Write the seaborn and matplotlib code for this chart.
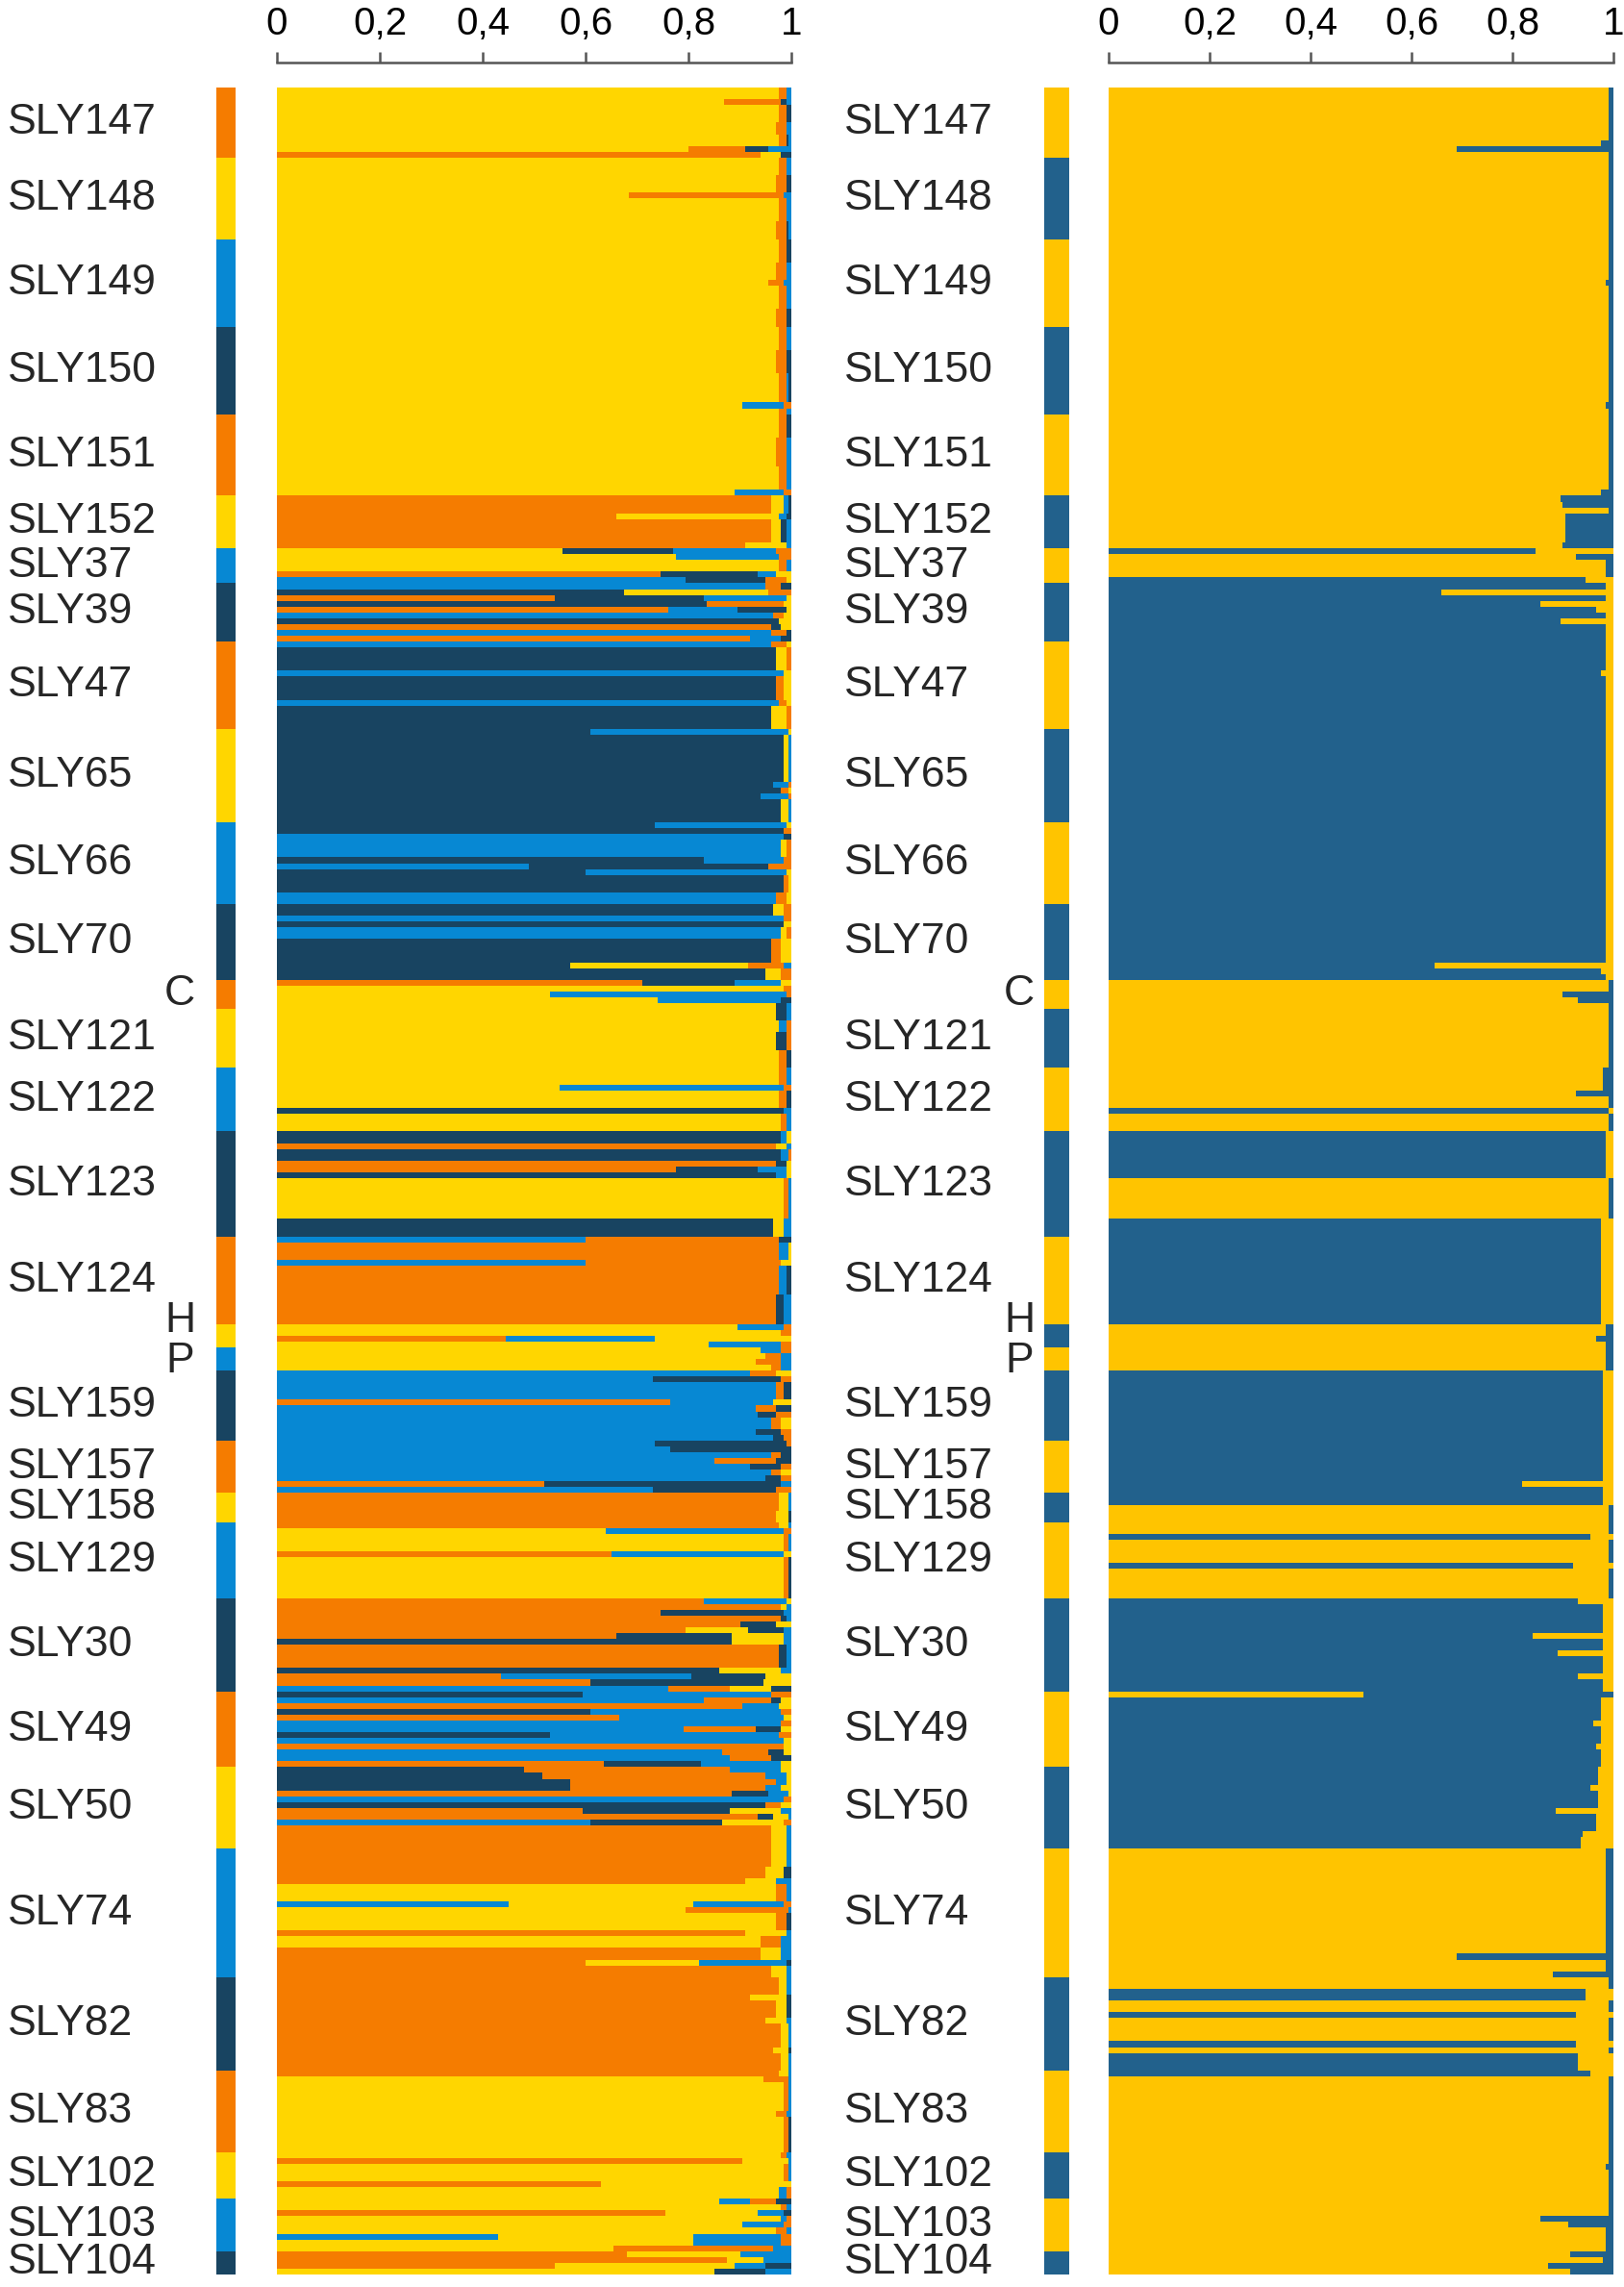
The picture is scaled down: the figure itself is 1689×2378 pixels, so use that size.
import matplotlib
matplotlib.use("Agg")
import matplotlib.pyplot as plt
import matplotlib.transforms as mtransforms
from matplotlib.colors import ListedColormap
import numpy as np
import pandas as pd
import seaborn as sns

# Populations, top to bottom, with number of individuals in each
populations = ["SLY147", "SLY148", "SLY149", "SLY150", "SLY151", "SLY152", "SLY37", "SLY39",
               "SLY47", "SLY65", "SLY66", "SLY70", "C", "SLY121", "SLY122", "SLY123", "SLY124",
               "H", "P", "SLY159", "SLY157", "SLY158", "SLY129", "SLY30", "SLY49", "SLY50",
               "SLY74", "SLY82", "SLY83", "SLY102", "SLY103", "SLY104"]
pop_sizes = [12, 14, 15, 15, 14, 9, 6, 10, 15, 16, 14, 13, 5, 10, 11, 18, 15,
             4, 4, 12, 9, 5, 13, 16, 13, 14, 22, 16, 14, 8, 9, 4]

# K=4 memberships: (number of individuals, "cluster% ..." in drawn order)
# O = orange, Y = yellow, B = light blue, N = navy
k4_runs = [
    [(2, "Y97.5 O1.5 B1"), (1, "Y87 O11 N1 B1"), (3, "Y97.5 O1.5 N1"), (2, "Y97 O2 B1"),
     (2, "Y97.5 O1.5 N0.5 B0.5"), (1, "Y80 O11 N4.5 B4.5"), (1, "O94 Y4 N2")],
    [(3, "Y97.5 O1.5 B1"), (3, "Y97 O2 N1"), (1, "Y68.5 O30 B1.5"), (4, "Y97.5 O1.5 B1"),
     (3, "Y97 O2 N0.5 B0.5")],
    [(4, "Y97.5 O1.5 N1"), (3, "Y97 O2 B1"), (1, "Y95.5 O3 B1.5"), (4, "Y97.5 O1.5 B1"),
     (3, "Y97 O2 N1")],
    [(4, "Y97.5 O1.5 B1"), (4, "Y97 O2 N1"), (5, "Y97.5 O1.5 B0.5 N0.5"), (1, "Y90.5 B8 O1.5"),
     (1, "Y97.5 O1.5 B1")],
    [(4, "Y97.5 O1.5 N1"), (5, "Y97 O2 B1"), (4, "Y97.5 O1.5 B1"), (1, "Y89 B9.5 O1.5")],
    [(3, "O96 Y2.5 B1 N0.5"), (1, "O66 Y31.5 B1.5 N1"), (4, "O96 Y2 N1 B1"), (1, "O91 Y8 B1")],
    [(1, "Y55.5 N21.5 B20 O3"), (1, "Y77.5 B20 O2.5"), (2, "Y97.5 O1.5 B1"),
     (1, "O74.5 N19 B3.5 Y3"), (1, "B79.5 N15.5 O4 Y1")],
    [(1, "B95 O3 N2"), (1, "N67.5 Y28 O4.5"), (1, "O54 N29 B16 Y1"), (1, "N83.5 O15 Y1.5"),
     (1, "O76 B13.5 N9.5 Y1"), (1, "B96.5 O2 Y1.5"), (1, "N97.5 Y2.5"), (1, "O96 N2 Y2"),
     (1, "B96 O3 N1"), (1, "O92 B6 N2")],
    [(1, "B96 O3 Y1"), (4, "N97 Y2 O1"), (1, "B98.5 Y1.5"), (4, "N97 O1.5 Y1.5"),
     (1, "B97.5 O1.5 Y1"), (4, "N96 Y3 O1")],
    [(1, "N61 B38.5 Y0.5"), (8, "N98.5 Y1 B0.5"), (1, "N96.5 B3 O0.5"), (1, "N98 O1.5 Y0.5"),
     (1, "N94 B5.5 O0.5"), (4, "N98 Y1.5 B0.5")],
    [(1, "N73.5 B25.5 Y1"), (1, "N98.5 O1.5"), (1, "B98.5 N1.5"), (3, "B98 Y1 O1"),
     (1, "N83 B15.5 O1.5"), (1, "B49 N46.5 O4.5"), (1, "N60 B39 Y1"), (3, "N98.5 O1 Y0.5"),
     (2, "B97 O2 Y1")],
    [(2, "N96.5 Y2 O1.5"), (1, "B98.5 O1.5"), (1, "N98.5 Y1.5"), (2, "B98 Y1 O1"),
     (4, "N96 O2 Y2"), (1, "N57 Y34.5 O7 B1.5"), (2, "N95 Y3 O2")],
    [(1, "O71 N18 B9 Y2"), (1, "Y98.5 O1.5"), (1, "Y53 B46 O1"), (1, "Y74 B24 N2"),
     (1, "Y97 N2 B1")],
    [(2, "Y97 N2 B1"), (2, "Y97.5 B1.5 O1"), (3, "Y97 N2 O1"), (3, "Y97.5 O1.5 N1")],
    [(3, "Y97.5 O1.5 B1"), (1, "Y55 B43.5 O1.5"), (3, "Y97.5 O1.5 N1"), (1, "N98.5 B1.5"),
     (3, "Y98 O1 B1")],
    [(2, "N98 B1 Y1"), (1, "O97 Y2 B1"), (2, "N98 B1.5 O0.5"), (1, "O97 N2 Y1"),
     (1, "O77.5 N16 B5.5 Y1"), (1, "N97 B2 Y1"), (7, "Y98.5 O1 B0.5"), (3, "N96.5 Y2 B1.5")],
    [(1, "B60 O37.5 N2.5"), (3, "O97.5 B2 Y0.5"), (1, "B60 O38 Y2"), (5, "O97.5 B1.5 N1"),
     (5, "O97 N1.5 B1.5")],
    [(1, "Y89.5 B9 O1.5"), (1, "Y98 O2"), (1, "O44.5 B29 Y26.5"), (1, "Y84 B14 O2")],
    [(1, "Y94 B4 O2"), (1, "Y95 O3 B2"), (1, "Y93 O5 B2"), (1, "Y96 O2 B2")],
    [(1, "B92 O5 Y3"), (1, "B73 N25 O2"), (3, "B97 O1.5 N1.5"), (1, "O76.5 B20 Y3.5"),
     (1, "B93 O4 N3"), (1, "B93.5 N3.5 O3"), (2, "B96 O2 Y2"), (1, "B93 N5 O2"),
     (1, "B96.5 N2 O1.5")],
    [(1, "B73.5 N25.5 O1"), (1, "B76.5 N23.5"), (1, "B96 O2 N2"), (1, "B85 O12 N3"),
     (1, "B92 N6 O2"), (1, "B96 O2 Y2"), (1, "B95 N3 O2"), (1, "O52 N46 B2"),
     (1, "B73 N24 O3")],
    [(3, "O97.5 Y2 B0.5"), (2, "O97 Y2.5 N0.5")],
    [(1, "O97.5 Y2 B0.5"), (1, "Y64 B34.5 O1.5"), (3, "Y98.5 O1 B0.5"), (1, "O65 B33.5 Y1.5"),
     (7, "Y98.5 O1 N0.5")],
    [(1, "O83 B16 Y1"), (1, "O98 Y1 B1"), (1, "O74.5 N24 B1.5"), (1, "O98 N1 B1"),
     (1, "O90 N7 Y3"), (1, "O79.5 Y12 N7 B1.5"), (1, "O66 N22.5 Y10 B1.5"),
     (1, "N88.5 Y10 B1.5"), (4, "O97.5 N1.5 B1"), (1, "N86 Y12 B2"),
     (1, "O43.5 B37 N14.5 Y5"), (1, "O61 N33.5 Y5.5"), (1, "B76 O12 Y8 N4")],
    [(1, "N59.5 B36.5 O4"), (1, "B83 O13 N2 Y2"), (1, "O90.5 B7 Y2.5"), (1, "N61 B37 O2"),
     (1, "O66.5 B32 Y1.5"), (1, "B98 O2"), (1, "B79 O14 N5 Y2"), (1, "N53 B44.5 O2.5"),
     (1, "B98.5 Y1.5"), (1, "O98.5 Y1.5"), (1, "B86.5 O9 N3 Y1.5"), (1, "B88 O8 N4"),
     (1, "O63.5 N19 B15.5 Y2")],
    [(1, "N48 O40 B10 Y2"), (1, "N51.5 O43.5 B4 Y1"), (1, "N57 O40 B2 Y1"),
     (1, "N57 O38 B3 Y2"), (1, "O88.5 N7 B4 Y0.5"), (1, "B98.5 O1.5"), (1, "N95 O3 Y2"),
     (1, "O59.5 N28.5 Y10 B2"), (1, "O93.5 N3 Y3 B0.5"), (1, "B61 N25.5 Y12 O1.5"),
     (4, "O96 Y3 B1")],
    [(3, "O96 Y3 B1"), (2, "O95 Y3.5 N1.5"), (1, "O91 Y6 B3"), (3, "Y97 O2 B1"),
     (1, "B45 Y36 B17.5 O1.5"), (1, "Y79.5 O20 B0.5"), (3, "Y97 O2 N1"), (1, "O91 Y8 B1"),
     (2, "Y94 O4 B2"), (2, "O94 Y4 B2"), (1, "O60 Y22 B17 N1"), (2, "O96 Y3 B1")],
    [(3, "O97.5 Y1.5 B1"), (1, "O92 Y7 N1"), (3, "O97 Y2 N1"), (1, "O95 Y4 B1"),
     (4, "O98 Y1.5 B0.5"), (1, "O96.5 Y3 N0.5"), (3, "O98 Y1.5 B0.5")],
    [(1, "O97.5 Y2 B0.5"), (1, "Y94.5 O5 B0.5"), (5, "Y98.5 O1 B0.5"), (1, "Y97 O2 B1"),
     (6, "Y98.5 O1 N0.5")],
    [(1, "Y98 O1 B1"), (1, "O90.5 Y9 B0.5"), (3, "Y98.5 O1 B0.5"), (1, "O63 Y37"),
     (2, "Y97.5 B1.5 O1")],
    [(1, "Y86 B6 O5 N3"), (1, "Y98 O1 B1"), (1, "O75.5 Y18 B5 N1.5"), (1, "Y98 B1 O1"),
     (1, "Y90.5 B8 O1.5"), (1, "Y97 O2 B1"), (1, "B43 Y38 B17 O2"), (1, "Y81 B17 O2"),
     (1, "Y65.5 O31 B3.5")],
    [(1, "O68 Y22 B10"), (1, "O87.5 Y7 B5.5"), (1, "O54 Y35 B6 N5"), (1, "Y85 N10 B5")],
]

# K=2 memberships: Y = yellow, B = blue
k2_runs = [
    [(9, "Y99 B1"), (1, "Y97.5 B2.5"), (1, "Y69 B31"), (1, "Y99 B1")],
    [(14, "Y99 B1")],
    [(7, "Y99 B1"), (1, "Y98.5 B1.5"), (7, "Y99 B1")],
    [(13, "Y99 B1"), (1, "Y98.5 B1.5"), (1, "Y99 B1")],
    [(13, "Y99 B1"), (1, "Y97.5 B2.5")],
    [(1, "Y89.5 B10.5"), (1, "Y90 B10"), (1, "Y99 B1"), (5, "Y90.5 B9.5"), (1, "Y90 B10")],
    [(1, "B84.5 Y15.5"), (1, "Y92.5 B7.5"), (3, "Y98.5 B1.5"), (1, "B94.5 Y5.5")],
    [(1, "B98.5 Y1.5"), (1, "B66 Y34"), (1, "B98.5 Y1.5"), (1, "B85.5 Y14.5"),
     (1, "B96.5 Y3.5"), (1, "B98.5 Y1.5"), (1, "B89.5 Y10.5"), (3, "B98.5 Y1.5")],
    [(5, "B98.5 Y1.5"), (1, "B97.5 Y2.5"), (9, "B98.5 Y1.5")],
    [(16, "B98.5 Y1.5")],
    [(14, "B98.5 Y1.5")],
    [(10, "B98.5 Y1.5"), (1, "B64.5 Y35.5"), (1, "B97.5 Y2.5"), (1, "B98.5 Y1.5")],
    [(2, "Y99 B1"), (1, "Y90 B10"), (1, "Y93 B7"), (1, "Y99 B1")],
    [(10, "Y99 B1")],
    [(4, "Y98 B2"), (1, "Y92.5 B7.5"), (2, "Y99 B1"), (1, "B99 Y1"), (3, "Y99 B1")],
    [(8, "B98.5 Y1.5"), (7, "Y99 B1"), (3, "B97.5 Y2.5")],
    [(15, "B97.5 Y2.5")],
    [(2, "Y98.5 B1.5"), (1, "Y96.5 B3.5"), (1, "Y98.5 B1.5")],
    [(4, "Y98.5 B1.5")],
    [(12, "B98 Y2")],
    [(7, "B98 Y2"), (1, "B82 Y18"), (1, "B98 Y2")],
    [(2, "B98 Y2"), (3, "Y99 B1")],
    [(2, "Y99 B1"), (1, "B95.5 Y4.5"), (4, "Y99 B1"), (1, "B92 Y8"), (5, "Y99 B1")],
    [(1, "B93 Y7"), (5, "B98 Y2"), (1, "B84 Y16"), (2, "B98 Y2"), (1, "B89 Y11"),
     (3, "B98 Y2"), (1, "B93 Y7"), (2, "B98 Y2")],
    [(1, "Y50.5 B49.5"), (4, "B97.5 Y2.5"), (1, "B96 Y4"), (3, "B97.5 Y2.5"),
     (1, "B96.5 Y3.5"), (3, "B97.5 Y2.5")],
    [(3, "B97 Y3"), (1, "B95.5 Y4.5"), (3, "B97 Y3"), (1, "B88.5 Y11.5"), (3, "B96.5 Y3.5"),
     (1, "B94 Y6"), (2, "B93.5 Y6.5")],
    [(18, "Y98.5 B1.5"), (1, "Y69 B31"), (2, "Y98.5 B1.5"), (1, "Y88 B12")],
    [(2, "Y99 B1"), (2, "B94.5 Y5.5"), (2, "Y99 B1"), (1, "B92.5 Y7.5"), (4, "Y99 B1"),
     (1, "B92.5 Y7.5"), (1, "Y99 B1"), (3, "B93 Y7")],
    [(1, "B95.5 Y4.5"), (13, "Y99 B1")],
    [(2, "Y99 B1"), (1, "Y98.5 B1.5"), (5, "Y99 B1")],
    [(3, "Y99 B1"), (1, "Y85.5 B14.5"), (1, "Y91 B9"), (4, "Y98.5 B1.5")],
    [(1, "Y91.5 B8.5"), (1, "Y98 B2"), (1, "Y87 B13"), (1, "Y91.5 B8.5")],
]

x_ticks = [0, 0.2, 0.4, 0.6, 0.8, 1]
x_tick_labels = ["0", "0,2", "0,4", "0,6", "0,8", "1"]

k4_colors = {"O": "#F57C00", "Y": "#FFD600", "B": "#0788D3", "N": "#184461"}
k2_colors = {"Y": "#FFC400", "B": "#22618C"}
k4_strip_cycle = ["O", "Y", "B", "N"]
k2_strip_cycle = ["Y", "B"]

# short labels sit right next to the strip, nudged in rows
side_labels = {"C": 0.0, "H": -2.5, "P": 0.5}

W, H = 1690, 2378
PLOT_TOP, PLOT_BOTTOM = 91, 2365


def px_rect(x0, x1, y0, y1):
    return [x0 / W, 1 - y1 / H, (x1 - x0) / W, (y1 - y0) / H]


def expand(runs_per_pop):
    rows = []
    for pop, size, runs in zip(populations, pop_sizes, runs_per_pop):
        n_pop = 0
        for n, spec in runs:
            segs = [(p[0], float(p[1:]) / 100) for p in spec.split()]
            rows.extend([segs] * n)
            n_pop += n
        assert n_pop == size, (pop, n_pop, size)
    return rows


def layer_frames(rows):
    depth = max(len(r) for r in rows)
    frames = []
    for j in range(depth):
        recs = []
        for i, segs in enumerate(rows):
            total = sum(f for _, f in segs)
            if j < len(segs):
                cum = sum(f for _, f in segs[:j + 1]) / total
                recs.append((i, cum, segs[j][0]))
            else:
                recs.append((i, 0.0, segs[0][0]))
        frames.append(pd.DataFrame(recs, columns=["row", "cum", "cluster"]))
    return frames


def draw_structure(ax, rows, colors):
    # painter's trick: longest cumulative segment first, shorter ones on top
    for df in reversed(layer_frames(rows)):
        sns.barplot(data=df, x="cum", y="row", hue="cluster", palette=colors,
                    orient="y", native_scale=True, dodge=False, width=1,
                    errorbar=None, saturation=1, linewidth=0, legend=False,
                    antialiased=False, ax=ax)
    n = len(rows)
    ax.set_xlim(0, 1)
    ax.set_ylim(n - 0.5, -0.5)
    ax.set(xlabel="", ylabel="")
    ax.set_yticks([])
    sns.despine(ax=ax, top=False, right=True, left=True, bottom=True,
                offset={"top": 19})
    ax.spines["top"].set_color("#555555")
    ax.spines["top"].set_linewidth(1.8)
    # ticks after despine, which would hide the top ticks otherwise
    ax.set_xticks(x_ticks, x_tick_labels)
    ax.tick_params(axis="x", top=True, bottom=False, labeltop=True, labelbottom=False,
                   direction="out", length=8, width=1.8, color="#555555",
                   labelsize=29, pad=7, labelcolor="black")


def draw_strip(ax, cycle, colors):
    codes = []
    for i, size in enumerate(pop_sizes):
        codes.extend([i % len(cycle)] * size)
    mat = np.array(codes).reshape(-1, 1)
    cmap = ListedColormap([colors[c] for c in cycle])
    sns.heatmap(mat, cmap=cmap, vmin=-0.5, vmax=len(cycle) - 0.5, cbar=False,
                xticklabels=False, yticklabels=False, ax=ax)
    ax.set(xlabel="", ylabel="")
    ax.tick_params(left=False, bottom=False, top=False, right=False)


def draw_labels(fig, ax, x_left, x_side):
    trans = mtransforms.blended_transform_factory(fig.transFigure, ax.transData)
    start = 0
    for pop, size in zip(populations, pop_sizes):
        mid = start + size / 2 - 0.5
        if pop in side_labels:
            ax.text(x_side / W, mid + side_labels[pop], pop, transform=trans,
                    ha="center", va="center", fontsize=32, clip_on=False)
        else:
            ax.text(x_left / W, mid, pop, transform=trans,
                    ha="left", va="center", fontsize=32, clip_on=False)
        start += size


sns.set_style("white")
plt.rcParams["font.family"] = ["Liberation Sans", "DejaVu Sans"]

fig = plt.figure(figsize=(W / 100, H / 100), dpi=100)

k4_rows = expand(k4_runs)
k2_rows = expand(k2_runs)

ax_k4 = fig.add_axes(px_rect(288, 823, PLOT_TOP, PLOT_BOTTOM))
draw_structure(ax_k4, k4_rows, k4_colors)
ax_s4 = fig.add_axes(px_rect(225, 245, PLOT_TOP, PLOT_BOTTOM))
draw_strip(ax_s4, k4_strip_cycle, k4_colors)
draw_labels(fig, ax_k4, 8, 187)

ax_k2 = fig.add_axes(px_rect(1153, 1678, PLOT_TOP, PLOT_BOTTOM))
draw_structure(ax_k2, k2_rows, k2_colors)
ax_s2 = fig.add_axes(px_rect(1086, 1112, PLOT_TOP, PLOT_BOTTOM))
draw_strip(ax_s2, k2_strip_cycle, k2_colors)
draw_labels(fig, ax_k2, 878, 1060)

fig.savefig("out.png", dpi=100, facecolor="white")
